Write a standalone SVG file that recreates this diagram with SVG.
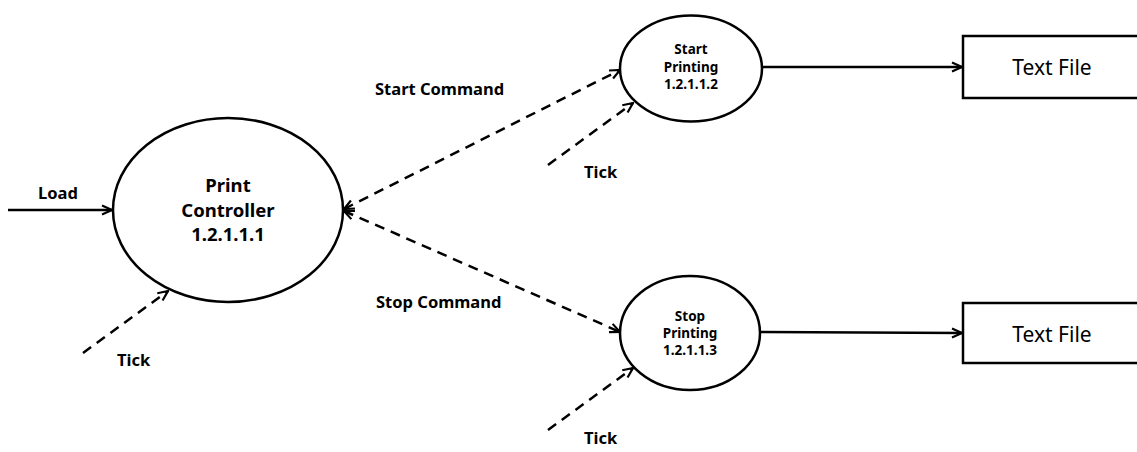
<svg xmlns="http://www.w3.org/2000/svg" width="1137" height="452" viewBox="0 0 1137 452">
<defs>
<marker id="arr" viewBox="0 0 12 12" refX="11" refY="6" markerWidth="12" markerHeight="12" markerUnits="userSpaceOnUse" orient="auto-start-reverse">
<path d="M1,1.5 L11,6 L1,10.5" fill="none" stroke="#000" stroke-width="2.2"/>
</marker>
</defs>
<style>
.shape{fill:#fff;stroke:#000;stroke-width:2.5}
.flow{fill:none;stroke:#000;stroke-width:2.5;marker-end:url(#arr)}
.both{marker-start:url(#arr)}
.dash{stroke-dasharray:10,7}
.lbl{font-family:"Noto Sans","Open Sans",sans-serif;font-weight:bold;font-size:16.5px;fill:#000}
.big{font-family:"Noto Sans","Open Sans",sans-serif;font-weight:bold;font-size:18.5px;fill:#000;text-anchor:middle}
.small{font-family:"Noto Sans","Open Sans",sans-serif;font-weight:bold;font-size:13.5px;fill:#000;text-anchor:middle}
.file{font-family:"Noto Sans","Open Sans",sans-serif;font-size:21px;fill:#000;text-anchor:middle}
</style>
<rect width="1137" height="452" fill="#fff"/>
<g id="connectors">
<line class="flow" x1="8" y1="210" x2="112" y2="210"/>
<line class="flow dash" x1="83" y1="353" x2="168" y2="291"/>
<line class="flow dash both" x1="344" y1="209" x2="620" y2="70"/>
<line class="flow dash both" x1="344" y1="211" x2="620" y2="332"/>
<line class="flow dash" x1="548" y1="165" x2="633" y2="103"/>
<line class="flow dash" x1="548" y1="430" x2="633" y2="368"/>
<line class="flow" x1="762" y1="67" x2="962" y2="67"/>
<line class="flow" x1="761" y1="332" x2="962" y2="333"/>
<text class="lbl" x="38" y="199">Load</text>
<text class="lbl" x="117" y="366">Tick</text>
<text class="lbl" x="375" y="95">Start Command</text>
<text class="lbl" x="584" y="178">Tick</text>
<text class="lbl" x="376" y="308">Stop Command</text>
<text class="lbl" x="584" y="444">Tick</text>
</g>
<g id="print-controller">
<ellipse class="shape" cx="228" cy="210" rx="115" ry="92"/>
<text class="big" x="228" y="192">Print</text>
<text class="big" x="228" y="217">Controller</text>
<text class="big" x="228" y="241">1.2.1.1.1</text>
</g>
<g id="start-printing">
<ellipse class="shape" cx="691" cy="68.5" rx="71" ry="53"/>
<text class="small" x="691" y="54">Start</text>
<text class="small" x="691" y="72">Printing</text>
<text class="small" x="691" y="89">1.2.1.1.2</text>
</g>
<g id="stop-printing">
<ellipse class="shape" cx="690" cy="333" rx="70" ry="57"/>
<text class="small" x="690" y="321">Stop</text>
<text class="small" x="690" y="338">Printing</text>
<text class="small" x="690" y="355">1.2.1.1.3</text>
</g>
<g id="text-file-1">
<rect class="shape" x="963" y="36" width="190" height="62"/>
<text class="file" x="1052" y="75">Text File</text>
</g>
<g id="text-file-2">
<rect class="shape" x="963" y="303" width="190" height="60"/>
<text class="file" x="1052" y="342">Text File</text>
</g>
</svg>
